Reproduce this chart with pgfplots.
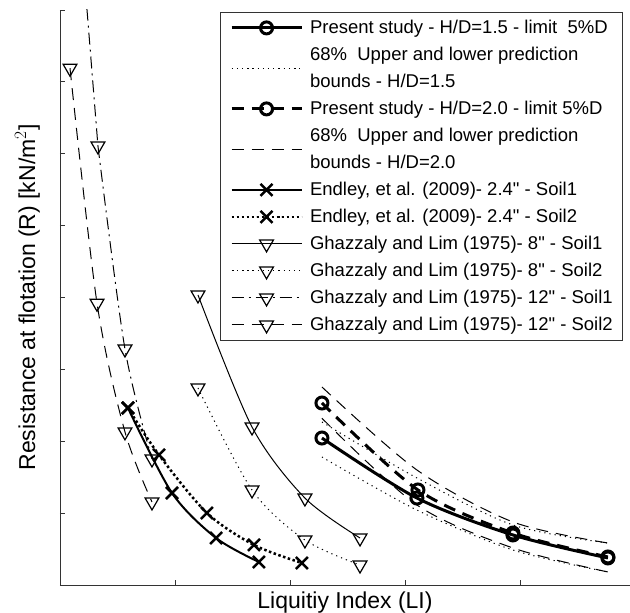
\documentclass[border=0pt]{standalone}
\usepackage{pgfplots}
\pgfplotsset{compat=1.18}
\usepackage{fontspec}
\setmainfont{Liberation Sans}
\newcommand\qq{\textquotedbl}
\pgfplotsset{
  legimg/.style={legend image code/.code={\draw[mark repeat=2,mark phase=2,##1] plot coordinates {(0pt,0pt) (35pt,0pt) (70pt,0pt)};}},
  legimgtwo/.style={legend image code/.code={\draw[##1, overlay] plot coordinates {(0pt,-13.5pt) (70pt,-13.5pt)};}},
}
\begin{document}
\begin{tikzpicture}
\begin{axis}[
  width=570pt, height=575pt, scale only axis,
  xmin=0, xmax=4.957, ymin=0, ymax=8,
  axis x line*=bottom, axis y line*=left,
  xtick={1,2,3,4}, ytick={1,2,3,4,5,6,7,8},
  xticklabels={}, yticklabels={},
  tick align=inside, major tick length=5pt,
  axis line style={draw=black!80, line width=0.8pt},
  tick style={draw=black!80, line width=0.8pt},
  xlabel={Liquitiy Index (LI)},
  ylabel={Resistance at flotation (R) [kN/m$^{2}$]},
  label style={font=\fontsize{23}{27}\selectfont},
  xlabel style={at={(axis description cs:0.5,-0.041)}, anchor=base, inner sep=0pt},
  ylabel style={at={(axis description cs:-0.035,0.5)}, anchor=south, inner sep=0pt},
  legimg,
  legend cell align=left,
  legend style={at={(rel axis cs:0.988,0.9965)}, anchor=north east,
    draw=black!80, line width=0.8pt, fill=white,
    font=\fontsize{18.5}{27}\selectfont,
    inner xsep=10pt, inner ysep=2pt, row sep=0pt, column sep=7pt,
    nodes={inner sep=0pt, text height=18.9pt, text depth=8.1pt}},
]
\coordinate (ll) at (rel axis cs:0,0);
\coordinate (ur) at (rel axis cs:1,1);

% Present study H/D=1.5
\addplot[black, line width=3pt, smooth, mark=o, mark size=6pt, mark options={solid}]
  coordinates {(2.278,2.045) (3.104,1.210) (3.939,0.696) (4.765,0.376)};
\addlegendentry{Present study - H/D=1.5 - limit\ \ 5\%D}
% bounds 1.5
\addplot[black, line width=1pt, smooth, dash pattern=on 1.2pt off 4pt, legimgtwo]
  coordinates {(2.278,2.268) (3.104,1.489) (3.939,0.835) (4.765,0.584)};
\addlegendentry{68\%\ \ Upper and lower prediction}
\addlegendimage{empty legend}
\addlegendentry{bounds - H/D=1.5}
\addplot[black, line width=1pt, smooth, dash pattern=on 1.2pt off 4pt, forget plot]
  coordinates {(2.278,1.781) (3.104,1.043) (3.939,0.487) (4.765,0.181)};
% Present study H/D=2.0
\addplot[black, line width=3pt, smooth, dash pattern=on 12pt off 8pt, mark=o, mark size=6pt, mark options={solid}]
  coordinates {(2.278,2.532) (3.113,1.322) (3.939,0.723) (4.765,0.390)};
\addlegendentry{Present study - H/D=2.0 - limit 5\%D}
% bounds 2.0
\addplot[black, line width=1pt, smooth, dash pattern=on 12pt off 8pt, legimgtwo]
  coordinates {(2.278,2.755) (3.104,1.600) (3.939,0.877) (4.765,0.584)};
\addlegendentry{68\%\ \ Upper and lower prediction}
\addlegendimage{empty legend}
\addlegendentry{bounds - H/D=2.0}
\addplot[black, line width=1pt, smooth, dash pattern=on 12pt off 8pt, forget plot]
  coordinates {(2.278,2.320) (3.104,1.113) (3.939,0.515) (4.765,0.181)};
% Endley Soil1
\addplot[black, line width=2pt, smooth, mark=x, mark size=8.5pt, mark options={solid, line width=2.5pt}]
  coordinates {(0.591,2.463) (0.974,1.280) (1.357,0.654) (1.730,0.320)};
\addlegendentry{Endley, et al. (2009)- 2.4\qq{} - Soil1}
% Endley Soil2
\addplot[black, line width=2.5pt, smooth, dash pattern=on 2.5pt off 2.5pt, mark=x, mark size=8.5pt, mark options={solid, line width=2.5pt}]
  coordinates {(0.591,2.463) (0.861,1.809) (1.278,1.002) (1.687,0.557) (2.104,0.306)};
\addlegendentry{Endley, et al. (2009)- 2.4\qq{} - Soil2}
% Ghazzaly 8" Soil1
\addplot[black, line width=1pt, smooth, mark=triangle, mark size=8pt, mark options={solid, rotate=180, line width=1.2pt}]
  coordinates {(1.200,4.035) (1.670,2.198) (2.130,1.210) (2.609,0.654)};
\addlegendentry{Ghazzaly and Lim (1975)- 8\qq{} - Soil1}
% Ghazzaly 8" Soil2
\addplot[black, line width=1pt, smooth, dash pattern=on 1.2pt off 4pt, mark=triangle, mark size=8pt, mark options={solid, rotate=180, line width=1.2pt}]
  coordinates {(1.200,2.741) (1.670,1.322) (2.130,0.626) (2.609,0.278)};
\addlegendentry{Ghazzaly and Lim (1975)- 8\qq{} - Soil2}
% Ghazzaly 12" Soil1
\addplot[black, line width=1pt, smooth, dash pattern=on 12pt off 5pt on 2pt off 5pt, mark=triangle, mark size=8pt, mark options={solid, rotate=180, line width=1.2pt}]
  coordinates {(0.330,6.108) (0.565,3.283) (0.800,1.753)};
\addlegendentry{Ghazzaly and Lim (1975)- 12\qq{} - Soil1}
\addplot[black, line width=1pt, dash pattern=on 12pt off 5pt on 2pt off 5pt, forget plot]
  coordinates {(0.209,8.35) (0.235,8.0) (0.330,6.108)};
% Ghazzaly 12" Soil2
\addplot[black, line width=1pt, smooth, dash pattern=on 12pt off 8pt, mark=triangle, mark size=8pt, mark options={solid, rotate=180, line width=1.2pt}]
  coordinates {(0.087,7.19) (0.322,3.92) (0.565,2.13) (0.800,1.155)};
\addlegendentry{Ghazzaly and Lim (1975)- 12\qq{} - Soil2}
\end{axis}
\pgfresetboundingbox
\path ([shift={(-60pt,-28pt)}]ll) rectangle ([shift={(0pt,10pt)}]ur);
\end{tikzpicture}
\end{document}
